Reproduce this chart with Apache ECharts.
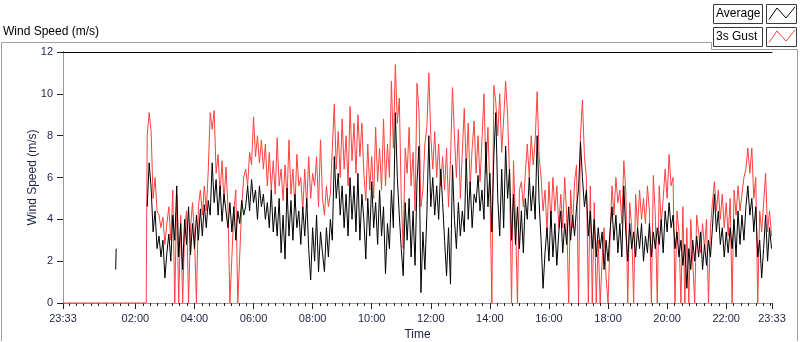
<!DOCTYPE html>
<html>
<head>
<meta charset="utf-8">
<title>Wind Speed</title>
<script src="https://cdn.jsdelivr.net/npm/echarts@6/dist/echarts.min.js"></script>
<style>
    html, body { margin: 0; padding: 0; background: #fff; }
    #echart1 { width: 800px; height: 342px; }
</style>
</head>
<body>
<div id="echart1"></div>
<script>
// x values are minutes after the first 23:33
var startClock = '23:33';
var tickLabels = ['23:33', '02:00', '04:00', '06:00', '08:00', '10:00', '12:00',
    '14:00', '16:00', '18:00', '20:00', '22:00', '23:33'];
var yTicks = [0, 2, 4, 6, 8, 10, 12];

var seriesNames = ['Average', '3s Gust'];
var seriesColors = ['#000000', '#ff4040'];

// logger samples: one every 4 minutes from 02:24
var sampleStart = 171;
var sampleStep = 4;

// before the gust logger came up it reports 0
var gustLeadTimes = [0, 169];
var gustLeadValues = [0, 0];
// lone average reading around 01:20
var avgEarlyTimes = [107, 108];
var avgEarlyValues = [1.6, 2.6];

var avgValues = [
    4.6, 6.7, 5.5, 3.4, 4.4, 2.6, 3.2, 2.2, 3.0, 1.2,
    2.4, 3.3, 2.0, 4.2, 3.0, 5.6, 2.2, 3.8, 1.6, 4.0,
    2.8, 4.6, 2.3, 3.8, 2.6, 4.2, 3.0, 4.5, 3.2, 4.7,
    3.6, 4.9, 4.2, 6.7, 4.8, 5.9, 4.2, 5.6, 3.9, 5.2,
    4.4, 3.6, 4.8, 3.4, 4.6, 3.0, 4.4, 3.8, 4.9, 4.2,
    4.6, 5.6, 4.4, 5.9, 4.8, 5.4, 4.0, 5.6, 4.6, 5.2,
    4.0, 4.8, 3.6, 5.4, 3.4, 4.6, 3.2, 5.0, 2.4, 4.2,
    2.1, 5.5, 3.2, 4.9, 3.0, 5.2, 3.6, 4.4, 2.8, 4.6,
    3.2, 5.0, 2.6, 1.1, 3.6, 2.0, 4.2, 1.5, 3.4, 2.4,
    1.5, 3.6, 2.2, 4.0, 3.0, 7.0, 5.0, 6.2, 4.2, 5.6,
    3.6, 5.2, 3.2, 6.0, 4.0, 5.6, 3.4, 6.2, 3.0, 5.2,
    4.0, 2.1, 5.0, 3.2, 5.8, 3.6, 4.8, 2.8, 5.4, 3.2,
    4.6, 1.4, 3.8, 2.6, 5.4, 3.6, 9.1, 6.0, 4.2, 2.6,
    1.3, 4.8, 3.0, 5.0, 2.2, 4.4, 1.8, 5.8, 7.5, 0.5,
    3.4, 1.6, 4.2, 8.0, 4.6, 6.0, 4.2, 5.6, 4.0, 6.4,
    4.8, 3.0, 1.3, 3.6, 0.9, 6.6, 4.0, 2.6, 4.8, 3.2,
    4.4, 3.4, 6.9, 4.0, 5.8, 3.6, 5.2, 4.8, 6.1, 4.4,
    5.4, 4.0, 7.7, 4.6, 6.2, 3.4, 7.0, 9.1, 5.0, 3.2,
    6.4, 3.6, 7.5, 5.0, 6.4, 3.0, 5.2, 2.8, 4.6, 2.6,
    4.4, 2.4, 5.0, 4.0, 6.0, 4.4, 5.6, 4.0, 8.0, 4.8,
    3.0, 0.7, 2.4, 3.6, 2.0, 4.4, 2.2, 3.8, 1.8, 3.4,
    4.4, 2.4, 3.8, 2.8, 4.6, 3.0, 4.2, 3.2, 4.6, 5.4,
    7.7, 6.0, 4.6, 5.4, 3.2, 4.4, 2.6, 4.0, 2.2, 3.6,
    2.6, 3.4, 1.6, 3.0, 2.0, 3.4, 4.6, 3.0, 4.2, 2.4,
    3.8, 2.2, 5.6, 3.4, 2.0, 3.8, 2.6, 3.4, 2.2, 3.6,
    2.6, 3.8, 2.0, 3.2, 2.4, 3.8, 2.2, 3.4, 2.6, 3.6,
    2.8, 4.0, 2.4, 4.4, 3.4, 4.8, 3.6, 4.2, 2.6, 3.4,
    2.2, 3.0, 1.8, 2.8, 0.7, 2.6, 1.6, 3.0, 2.0, 3.2,
    2.2, 3.4, 1.6, 2.8, 1.8, 3.0, 2.2, 3.6, 5.2, 3.4,
    4.4, 2.8, 3.6, 2.2, 3.4, 2.4, 3.6, 2.6, 4.0, 2.2,
    4.4, 2.8, 4.2, 3.0, 4.6, 5.6, 4.2, 5.0, 3.4, 4.6,
    2.2, 3.0, 1.2, 2.6, 4.2, 2.0, 3.6, 2.6
];

var gustValues = [
    8.0, 9.1, 8.2, 5.0, 6.0, 4.4, 4.2, 3.6, 4.1, 2.8,
    3.8, 4.6, 3.0, 5.4, 0, 5.2, 0, 4.2, 0, 3.5,
    4.4, 0, 3.6, 4.8, 3.2, 0, 4.6, 5.4, 4.2, 5.6,
    4.4, 6.3, 9.1, 8.3, 9.2, 6.2, 7.1, 5.2, 6.8, 4.8,
    6.5, 4.6, 0, 0, 4.4, 5.4, 0, 0, 4.6, 6.0,
    6.4, 5.6, 7.2, 6.6, 8.9, 7.0, 8.0, 6.7, 7.8, 6.4,
    7.6, 5.6, 7.2, 5.4, 6.8, 5.2, 7.9, 5.6, 6.4, 4.9,
    6.6, 5.0, 7.8, 5.2, 6.4, 4.6, 7.1, 5.6, 6.0, 4.4,
    6.4, 4.6, 7.0, 5.0, 6.2, 5.6, 7.0, 4.6, 7.8, 5.0,
    4.2, 5.6, 4.6, 5.2, 7.4, 9.5, 6.4, 8.2, 6.0, 8.8,
    6.4, 8.0, 5.6, 9.4, 6.8, 8.6, 6.2, 9.0, 7.0, 8.6,
    6.2, 4.9, 7.6, 5.4, 7.0, 5.0, 8.4, 5.8, 7.4, 5.4,
    8.8, 5.6, 7.6, 6.0, 10.6, 7.4, 11.4, 8.6, 9.8, 5.0,
    2.6, 7.4, 6.2, 8.4, 5.6, 7.2, 4.4, 10.5, 9.2, 4.6,
    5.4, 7.6, 8.4, 11.0, 8.0, 6.4, 8.2, 6.0, 7.6, 5.6,
    7.0, 5.4, 7.4, 4.6, 6.8, 10.3, 8.0, 6.0, 8.3, 5.0,
    7.2, 9.3, 6.4, 8.6, 5.6, 7.4, 8.7, 6.2, 8.0, 5.8,
    7.8, 10.0, 6.2, 8.4, 5.4, 0, 10.4, 9.6, 8.0, 10.0,
    7.2, 8.8, 10.6, 9.0, 6.0, 0, 6.8, 4.0, 0, 5.4,
    5.8, 4.6, 6.2, 7.6, 6.0, 8.0, 6.6, 7.8, 10.1, 7.0,
    6.0, 4.4, 5.4, 3.4, 5.8, 3.8, 6.0, 4.4, 5.6, 3.6,
    5.2, 3.6, 6.0, 4.2, 0, 5.4, 3.6, 5.8, 6.6, 0,
    8.0, 9.7, 7.0, 6.0, 0, 5.6, 0, 4.8, 0, 3.0,
    0, 2.0, 3.6, 1.2, 0, 3.0, 5.6, 4.2, 6.0, 4.8,
    5.4, 3.8, 6.8, 5.4, 0, 4.8, 3.6, 0, 5.2, 3.6,
    5.4, 4.0, 5.0, 3.8, 5.6, 4.4, 0, 6.1, 4.2, 0,
    5.6, 3.8, 5.0, 6.4, 5.0, 7.1, 5.6, 6.0, 0, 4.4,
    3.4, 0, 4.6, 0, 3.6, 0, 4.0, 2.0, 0, 4.2,
    3.4, 2.4, 3.8, 2.6, 4.0, 0, 3.6, 4.8, 5.8, 4.4,
    5.4, 4.0, 5.2, 3.6, 4.8, 3.2, 5.0, 0, 5.4, 4.2,
    5.6, 4.4, 5.2, 6.0, 6.4, 7.4, 6.2, 7.4, 5.0, 6.0,
    0, 4.4, 3.4, 4.8, 6.2, 3.4, 4.4, 3.2
];

(function () {
    echarts_1();

    function clockToMin(s) {
        var p = s.split(':');
        return parseInt(p[0], 10) * 60 + parseInt(p[1], 10);
    }

    function minToClock(v) {
        var m = (clockToMin(startClock) + Math.round(v)) % 1440;
        var h = Math.floor(m / 60), mm = m % 60;
        return (h < 10 ? '0' : '') + h + ':' + (mm < 10 ? '0' : '') + mm;
    }

    function echarts_1() {
        var myChart = echarts.init(document.getElementById('echart1'));
        var textColor = '#1c2340';
        var font = 'Liberation Sans, Arial, sans-serif';
        var startMin = clockToMin(startClock);

        // major tick positions come from the tick label list
        var majorTicks = tickLabels.map(function (s, i) {
            var v = (clockToMin(s) - startMin + 1440) % 1440;
            return (i === tickLabels.length - 1 && v === 0) ? 1440 : v;
        });
        var minorTicks = [];
        for (var m = 15 - (startMin % 15); m < 1440; m += 15) {
            minorTicks.push(m);
        }

        var gustData = [];
        for (var i = 0; i < gustLeadTimes.length; i++) {
            gustData.push([gustLeadTimes[i], gustLeadValues[i]]);
        }
        gustValues.forEach(function (v, i) {
            gustData.push([sampleStart + i * sampleStep, v]);
        });

        var avgData = [];
        for (var j = 0; j < avgEarlyTimes.length; j++) {
            avgData.push([avgEarlyTimes[j], avgEarlyValues[j]]);
        }
        avgData.push([avgEarlyTimes[avgEarlyTimes.length - 1] + 1, null]);
        avgValues.forEach(function (v, i) {
            avgData.push([sampleStart + i * sampleStep, v]);
        });

        // legend boxes drawn like the instrument panel
        var legendGraphics = [];
        seriesNames.forEach(function (name, k) {
            var top = 4.5 + k * 23;
            legendGraphics.push(
                { type: 'rect', shape: { x: 713.5, y: top, width: 49, height: 19 },
                  style: { fill: '#fff', stroke: '#3a3a3a', lineWidth: 1 } },
                { type: 'text', x: 716, y: top + 9.5,
                  style: { text: name, fill: '#000', font: '12px ' + font, verticalAlign: 'middle' } },
                { type: 'rect', shape: { x: 766.5, y: top, width: 30, height: 19 },
                  style: { fill: '#fff', stroke: '#3a3a3a', lineWidth: 1 } },
                { type: 'polyline', shape: { points: [[769, top + 15], [777, top + 3.5], [786, top + 13.5], [795, top + 2.5]] },
                  style: { stroke: seriesColors[k], lineWidth: 1, fill: null } }
            );
        });

        option = {
            animation: false,
            backgroundColor: '#fff',
            title: {
                text: 'Wind Speed (m/s)',
                left: 3,
                top: 26,
                padding: 0,
                textStyle: { fontSize: 12, fontWeight: 'normal', color: '#000', fontFamily: font }
            },
            graphic: [
                { type: 'polyline', silent: true,
                  shape: { points: [[1.5, 341], [1.5, 42.5], [711.5, 42.5], [711.5, 49.5], [797.5, 49.5], [797.5, 341]] },
                  style: { stroke: '#a0a0a0', lineWidth: 1, fill: null } }
            ].concat(legendGraphics),
            grid: { left: 63, right: 28, top: 52, bottom: 39, outerBoundsMode: 'none' },
            xAxis: [
                {
                    type: 'value', min: 0, max: 1440,
                    name: 'Time', nameLocation: 'middle', nameGap: 26, nameMoveOverlap: false,
                    nameTextStyle: { fontSize: 12, color: textColor, fontFamily: font },
                    axisLine: { lineStyle: { color: '#9a9a9a', width: 1 } },
                    axisTick: { customValues: majorTicks, length: 6, lineStyle: { color: '#202020' } },
                    axisLabel: {
                        customValues: majorTicks, margin: 10, fontSize: 11, color: textColor, fontFamily: font,
                        formatter: function (v) { return minToClock(v); }
                    },
                    splitLine: { show: false }
                },
                {
                    type: 'value', min: 0, max: 1440, position: 'bottom',
                    axisLine: { show: false },
                    axisTick: { customValues: minorTicks, length: 3, lineStyle: { color: '#202020' } },
                    axisLabel: { show: false },
                    splitLine: { show: false }
                },
                {
                    type: 'value', min: 0, max: 1440, position: 'top',
                    axisLine: { lineStyle: { color: '#000', width: 1 } },
                    axisTick: { show: false }, axisLabel: { show: false }, splitLine: { show: false }
                }
            ],
            yAxis: [
                {
                    type: 'value', min: yTicks[0], max: yTicks[yTicks.length - 1], interval: yTicks[1] - yTicks[0],
                    name: 'Wind Speed (m/s)', nameLocation: 'middle', nameGap: 24, nameMoveOverlap: false,
                    nameTextStyle: { fontSize: 12, color: textColor, fontFamily: font },
                    axisLine: { show: true, lineStyle: { color: '#000', width: 1 } },
                    axisTick: { show: true, length: 6, lineStyle: { color: '#202020' } },
                    axisLabel: { margin: 10, fontSize: 11, color: textColor, fontFamily: font },
                    splitLine: { show: false }
                },
                {
                    type: 'value', min: yTicks[0], max: yTicks[yTicks.length - 1], position: 'right',
                    axisLine: { show: true, lineStyle: { color: '#9a9a9a', width: 1 } },
                    axisTick: { show: false }, axisLabel: { show: false }, splitLine: { show: false }
                }
            ],
            series: [
                {
                    name: seriesNames[1], type: 'line', data: gustData,
                    showSymbol: false, clip: false,
                    lineStyle: { color: seriesColors[1], width: 1 },
                    itemStyle: { color: seriesColors[1] }
                },
                {
                    name: seriesNames[0], type: 'line', data: avgData,
                    showSymbol: false, clip: false, connectNulls: false,
                    lineStyle: { color: seriesColors[0], width: 1 },
                    itemStyle: { color: seriesColors[0] }
                }
            ]
        };

        myChart.setOption(option);
        window.addEventListener("resize", function () {
            myChart.resize();
        });
    }
})();
</script>
</body>
</html>
